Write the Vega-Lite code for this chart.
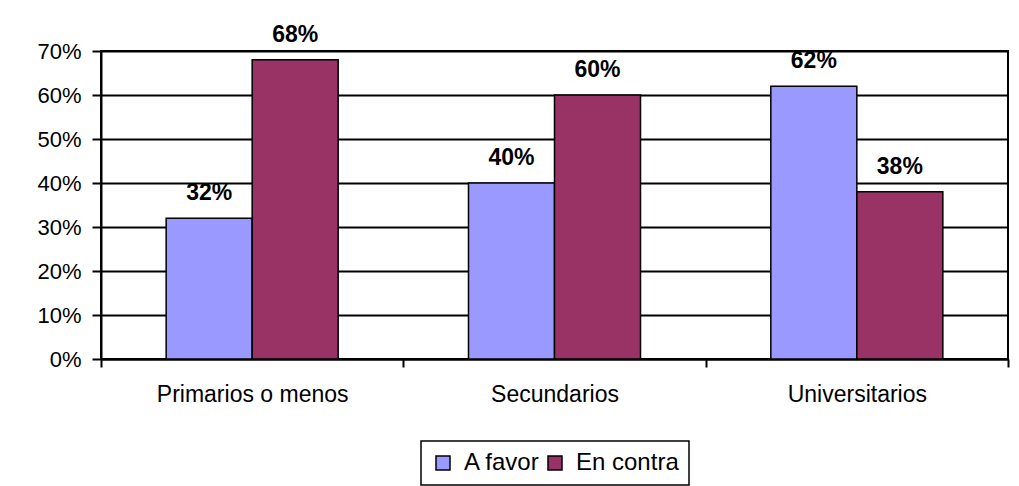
{
  "$schema": "https://vega.github.io/schema/vega-lite/v6.json",
  "autosize": "none",
  "padding": {"left": 101, "top": 51, "right": 11, "bottom": 127},
  "width": 907,
  "height": 308,
  "background": "white",
  "config": {
    "font": "Liberation Sans",
    "view": {"stroke": "black", "strokeWidth": 2}
  },
  "data": {
    "values": [
      {"nivel": "Primarios o menos", "serie": "A favor", "valor": 0.32},
      {"nivel": "Primarios o menos", "serie": "En contra", "valor": 0.68},
      {"nivel": "Secundarios", "serie": "A favor", "valor": 0.40},
      {"nivel": "Secundarios", "serie": "En contra", "valor": 0.60},
      {"nivel": "Universitarios", "serie": "A favor", "valor": 0.62},
      {"nivel": "Universitarios", "serie": "En contra", "valor": 0.38}
    ]
  },
  "encoding": {
    "x": {
      "field": "nivel",
      "type": "nominal",
      "sort": null,
      "title": null,
      "scale": {"paddingInner": 0, "paddingOuter": 0},
      "axis": {
        "labelAngle": 0,
        "labelFontSize": 23,
        "labelLimit": 400,
        "labelColor": "black",
        "labelPadding": 16,
        "tickBand": "extent",
        "tickSize": 8,
        "tickColor": "black",
        "tickWidth": 2,
        "domainColor": "black",
        "domainWidth": 2,
        "grid": false
      }
    },
    "xOffset": {
      "field": "serie",
      "type": "nominal",
      "sort": ["A favor", "En contra"],
      "scale": {"paddingInner": 0, "paddingOuter": 0.7576}
    },
    "y": {
      "field": "valor",
      "type": "quantitative",
      "title": null,
      "scale": {"domain": [0, 0.7], "nice": false},
      "axis": {
        "values": [0, 0.1, 0.2, 0.3, 0.4, 0.5, 0.6, 0.7],
        "format": ".0%",
        "labelFontSize": 22,
        "labelColor": "black",
        "labelPadding": 11,
        "tickSize": 9,
        "tickColor": "black",
        "tickWidth": 2,
        "domainColor": "black",
        "domainWidth": 2,
        "grid": true,
        "gridColor": "black",
        "gridWidth": 2,
        "gridOpacity": 1
      }
    }
  },
  "layer": [
    {
      "mark": {"type": "bar", "stroke": "black", "strokeWidth": 1.5},
      "encoding": {
        "color": {
          "field": "serie",
          "type": "nominal",
          "scale": {"domain": ["A favor", "En contra"], "range": ["#9999FF", "#993366"]},
          "legend": {
            "title": null,
            "orient": "none",
            "legendX": 320,
            "legendY": 390,
            "direction": "horizontal",
            "strokeColor": "black",
            "padding": 10,
            "symbolType": "square",
            "symbolSize": 196,
            "symbolStrokeColor": "black",
            "symbolStrokeWidth": 1.5,
            "symbolOpacity": 1,
            "labelFontSize": 24,
            "labelColor": "black",
            "labelOffset": 9,
            "columnPadding": 2,
            "encode": {"legend": {"update": {"strokeWidth": {"value": 1.5}}}}
          }
        }
      }
    },
    {
      "mark": {"type": "text", "baseline": "alphabetic", "dy": -18, "fontSize": 23, "fontWeight": "bold", "color": "black"},
      "encoding": {
        "text": {"field": "valor", "type": "quantitative", "format": ".0%"}
      }
    }
  ]
}
